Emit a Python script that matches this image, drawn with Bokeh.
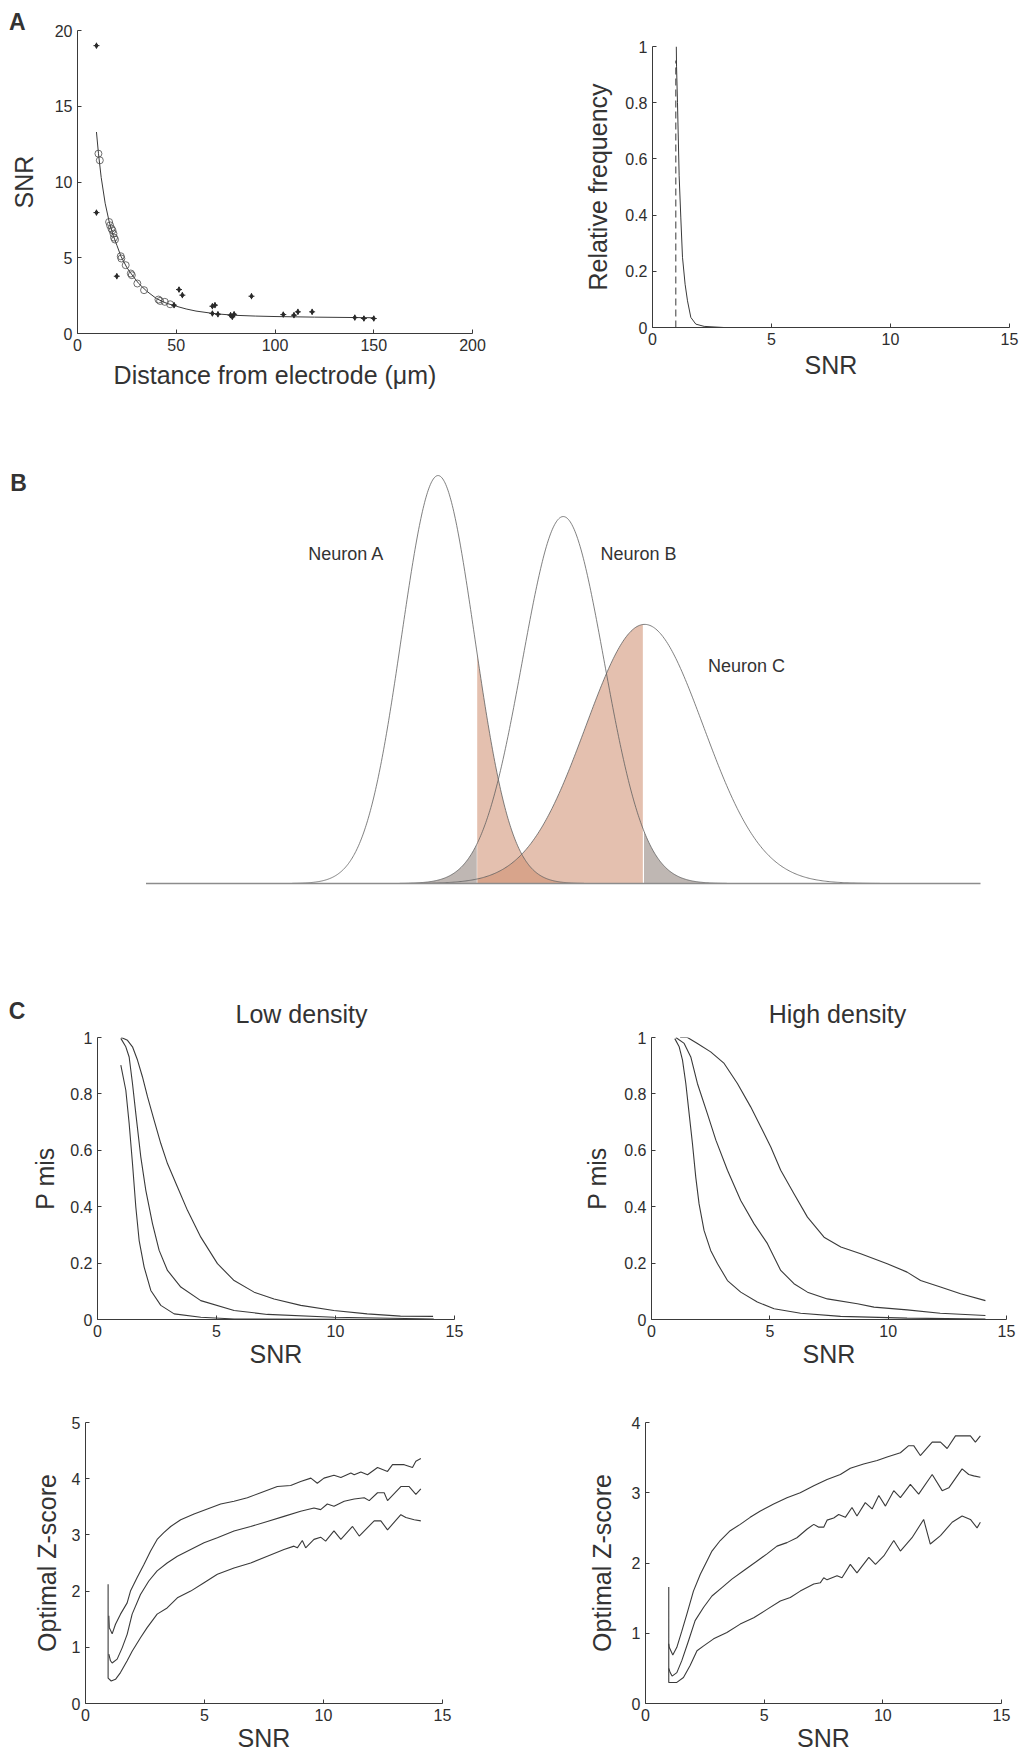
import numpy as np
from bokeh.plotting import figure
from bokeh.layouts import column, row
from bokeh.models import FixedTicker, CustomJSTickFormatter, Label, Title
from bokeh.embed import file_html
from bokeh.resources import INLINE

FONT = "Liberation Sans"
INK = "#3a3a3a"

# ---------------- Panel A (left): SNR vs distance ----------------
fit_dist = [9.6, 10.6, 12, 14, 16, 18, 20, 22, 25, 28, 31, 35, 40, 45, 50, 55, 60, 70, 80, 90, 100, 120, 150]
fit_snr = [13.3, 11.9, 10.3, 8.6, 7.4, 6.5, 5.8, 5.1, 4.35, 3.8, 3.3, 2.8, 2.3, 2.0, 1.8, 1.62, 1.48, 1.3, 1.2, 1.15, 1.12, 1.08, 1.04]
circ_dist = [10.6, 11.3, 16.0, 16.5, 17.2, 17.7, 18.2, 18.5, 19.0, 21.9, 22.2, 24.4, 27.0, 27.5, 30.3, 33.7, 41.0, 41.8, 44.2, 46.9]
circ_snr = [11.87, 11.43, 7.36, 7.14, 6.92, 6.81, 6.59, 6.33, 6.20, 5.10, 4.95, 4.51, 3.96, 3.85, 3.30, 2.86, 2.24, 2.15, 2.09, 1.93]
dot_dist = [9.6, 9.6, 19.9, 51.4, 53.1, 48.9, 68.3, 69.6, 68.3, 71.1, 77.5, 78.4, 79.3, 88.1, 104.2, 109.6, 111.6, 118.8, 140.4, 145.0, 150.0]
dot_snr = [19.0, 7.98, 3.78, 2.90, 2.53, 1.87, 1.80, 1.87, 1.32, 1.27, 1.21, 1.10, 1.27, 2.46, 1.25, 1.21, 1.43, 1.43, 1.05, 0.99, 0.99]

# ---------------- Panel A (right): relative frequency ----------------
freq_snr = [1.0, 1.01, 1.05, 1.12, 1.19, 1.26, 1.37, 1.47, 1.61, 1.82, 2.17, 3.0, 15.0]
freq_val = [1.0, 0.93, 0.80, 0.54, 0.39, 0.25, 0.154, 0.095, 0.036, 0.012, 0.004, 0.0, 0.0]
dash_snr = [0.98, 0.98]
dash_val = [0.0, 0.95]

# ---------------- Panel B: three neuron distributions ----------------
neurons = ["Neuron A", "Neuron B", "Neuron C"]
neuron_mean = [7.0, 10.0, 11.95]
neuron_sd = [0.874, 0.98, 1.41]
neuron_peak = [0.995, 0.895, 0.632]
window = [7.93, 11.92]
b_domain = [0.0, 20.0]

# ---------------- Panel C: P mis (low / high density) ----------------
low1_x = [0.98, 1.19, 1.33, 1.47, 1.61, 1.75, 1.96, 2.24, 2.66, 3.22, 4.34, 5.74, 14.13]
low1_y = [0.902, 0.813, 0.695, 0.553, 0.399, 0.28, 0.186, 0.103, 0.05, 0.02, 0.008, 0.002, 0.0]
low2_x = [0.98, 1.19, 1.33, 1.47, 1.61, 1.82, 2.03, 2.31, 2.59, 2.94, 3.5, 4.34, 5.74, 7.14, 9.93, 14.13]
low2_y = [0.997, 0.967, 0.931, 0.837, 0.730, 0.576, 0.458, 0.34, 0.245, 0.174, 0.115, 0.067, 0.032, 0.018, 0.008, 0.002]
low3_x = [1.0, 1.26, 1.47, 1.68, 1.89, 2.1, 2.38, 2.66, 2.94, 3.36, 3.78, 4.34, 5.04, 5.74, 6.58, 7.42, 8.54, 9.93, 11.33, 12.73, 14.1]
low3_y = [1.0, 0.99, 0.967, 0.92, 0.86, 0.79, 0.706, 0.624, 0.553, 0.47, 0.387, 0.292, 0.198, 0.138, 0.097, 0.073, 0.05, 0.032, 0.02, 0.012, 0.011]

high1_x = [0.985, 1.17, 1.31, 1.45, 1.59, 1.73, 1.87, 2.01, 2.22, 2.5, 2.79, 3.21, 3.77, 4.47, 5.18, 6.3, 7.99, 10.8, 14.11]
high1_y = [0.996, 0.967, 0.92, 0.837, 0.73, 0.624, 0.505, 0.41, 0.316, 0.245, 0.198, 0.138, 0.097, 0.062, 0.038, 0.022, 0.011, 0.005, 0.002]
high2_x = [1.03, 1.38, 1.66, 1.94, 2.36, 2.72, 3.21, 3.77, 4.33, 4.9, 5.46, 6.02, 6.59, 7.43, 8.7, 9.4, 10.8, 12.2, 14.11]
high2_y = [1.0, 0.979, 0.931, 0.837, 0.73, 0.636, 0.529, 0.422, 0.34, 0.269, 0.174, 0.127, 0.097, 0.073, 0.056, 0.044, 0.034, 0.022, 0.014]
high3_x = [1.21, 1.52, 1.94, 2.5, 3.07, 3.63, 4.19, 4.62, 5.04, 5.46, 6.02, 6.59, 7.29, 8.0, 8.84, 9.96, 10.8, 11.37, 12.21, 13.06, 14.11]
high3_y = [1.0, 1.0, 0.979, 0.949, 0.908, 0.837, 0.754, 0.683, 0.612, 0.529, 0.446, 0.363, 0.292, 0.257, 0.233, 0.198, 0.168, 0.138, 0.115, 0.091, 0.067]

# ---------------- Panel C: optimal Z-score ----------------
zlow_top_x = [0.98, 1.0, 1.12, 1.26, 1.47, 1.75, 1.89, 2.17, 2.45, 2.73, 3.01, 3.29, 3.58, 4.0, 4.56, 5.12, 5.68, 6.24, 6.8, 7.36, 8.06, 8.62, 9.04, 9.47, 9.74, 10.02, 10.44, 10.73, 11.15, 11.29, 11.57, 11.85, 12.27, 12.69, 12.9, 13.39, 13.74, 13.88, 14.09]
zlow_top_y = [1.56, 1.35, 1.24, 1.41, 1.59, 1.79, 2.0, 2.24, 2.47, 2.71, 2.92, 3.04, 3.15, 3.27, 3.37, 3.46, 3.55, 3.6, 3.66, 3.75, 3.86, 3.88, 3.95, 4.01, 3.92, 4.01, 4.06, 4.02, 4.1, 4.07, 4.12, 4.07, 4.2, 4.13, 4.25, 4.25, 4.2, 4.31, 4.36]
zlow_mid_x = [0.98, 1.05, 1.12, 1.33, 1.54, 1.75, 1.96, 2.31, 2.66, 3.01, 3.43, 3.86, 4.42, 4.98, 5.54, 6.24, 6.94, 7.64, 8.34, 9.04, 9.6, 9.88, 10.16, 10.44, 10.87, 11.29, 11.71, 11.92, 12.27, 12.55, 12.69, 13.25, 13.6, 13.88, 14.09]
zlow_mid_y = [0.88, 0.76, 0.72, 0.79, 0.99, 1.23, 1.59, 1.94, 2.18, 2.36, 2.5, 2.62, 2.74, 2.86, 2.95, 3.07, 3.15, 3.24, 3.33, 3.42, 3.48, 3.45, 3.55, 3.51, 3.6, 3.64, 3.66, 3.61, 3.75, 3.75, 3.61, 3.86, 3.86, 3.72, 3.82]
zlow_bot_x = [0.95, 0.95, 1.08, 1.26, 1.47, 1.75, 1.96, 2.31, 2.59, 3.01, 3.43, 3.86, 4.42, 4.98, 5.54, 6.24, 6.94, 7.64, 8.34, 8.76, 8.9, 9.11, 9.25, 9.6, 9.88, 10.09, 10.44, 10.73, 11.22, 11.5, 12.13, 12.41, 12.69, 13.25, 13.46, 13.81, 14.09]
zlow_bot_y = [2.12, 0.45, 0.40, 0.43, 0.55, 0.76, 0.93, 1.17, 1.35, 1.59, 1.7, 1.88, 2.0, 2.15, 2.3, 2.41, 2.5, 2.62, 2.74, 2.8, 2.77, 2.9, 2.77, 2.92, 2.96, 2.89, 3.07, 2.92, 3.15, 2.98, 3.25, 3.25, 3.09, 3.36, 3.31, 3.27, 3.25]

zhigh_top_x = [0.98, 1.0, 1.15, 1.32, 1.53, 1.74, 2.02, 2.31, 2.59, 2.8, 3.15, 3.57, 3.99, 4.41, 4.84, 5.4, 5.96, 6.52, 7.09, 7.65, 8.21, 8.63, 9.19, 9.76, 10.18, 10.74, 11.09, 11.3, 11.58, 12.08, 12.43, 12.71, 13.06, 13.69, 13.9, 14.11]
zhigh_top_y = [0.85, 0.80, 0.69, 0.8, 1.03, 1.27, 1.6, 1.84, 2.03, 2.17, 2.32, 2.46, 2.55, 2.65, 2.74, 2.84, 2.93, 3.0, 3.1, 3.19, 3.26, 3.35, 3.41, 3.46, 3.51, 3.57, 3.67, 3.67, 3.53, 3.72, 3.72, 3.63, 3.81, 3.81, 3.72, 3.81]
zhigh_mid_x = [0.98, 1.04, 1.12, 1.32, 1.53, 1.81, 2.09, 2.45, 2.8, 3.22, 3.64, 4.13, 4.63, 5.12, 5.54, 5.96, 6.38, 6.8, 7.09, 7.3, 7.51, 7.65, 7.93, 8.14, 8.42, 8.7, 8.91, 9.26, 9.55, 9.83, 10.11, 10.46, 10.74, 11.16, 11.51, 12.08, 12.5, 12.78, 13.34, 13.62, 13.83, 14.11]
zhigh_mid_y = [0.5, 0.44, 0.39, 0.44, 0.61, 0.89, 1.18, 1.37, 1.53, 1.65, 1.77, 1.89, 2.01, 2.13, 2.24, 2.29, 2.36, 2.48, 2.55, 2.51, 2.51, 2.61, 2.64, 2.69, 2.65, 2.79, 2.67, 2.86, 2.77, 2.96, 2.81, 3.03, 2.93, 3.12, 2.98, 3.26, 3.03, 3.07, 3.34, 3.26, 3.24, 3.22]
zhigh_bot_x = [0.98, 0.98, 1.32, 1.6, 1.88, 2.17, 2.45, 2.87, 3.43, 3.99, 4.56, 5.12, 5.68, 6.1, 6.52, 7.09, 7.37, 7.51, 7.65, 8.07, 8.28, 8.63, 8.91, 9.41, 9.69, 10.04, 10.46, 10.74, 11.23, 11.72, 12.0, 12.43, 12.92, 13.34, 13.69, 13.97, 14.11]
zhigh_bot_y = [1.66, 0.3, 0.3, 0.37, 0.54, 0.75, 0.82, 0.92, 1.01, 1.13, 1.22, 1.34, 1.46, 1.51, 1.6, 1.7, 1.72, 1.79, 1.76, 1.82, 1.79, 1.98, 1.86, 2.08, 1.98, 2.1, 2.32, 2.17, 2.36, 2.62, 2.27, 2.39, 2.58, 2.67, 2.62, 2.5, 2.58]

fmt = CustomJSTickFormatter(code="return String(Math.round(tick*100)/100);")


def make_fig(width, height, xr, yr, borders):
    l, r, t, b = borders
    p = figure(width=width, height=height, x_range=xr, y_range=yr,
               output_backend="svg", toolbar_location=None,
               min_border_left=l, min_border_right=r,
               min_border_top=t, min_border_bottom=b)
    p.outline_line_color = None
    p.grid.visible = False
    p.background_fill_color = "white"
    p.border_fill_color = "white"
    return p


def style_axes(p, xticks, yticks, xlabel, ylabel, ylab_stand, xlab_stand=1):
    p.xaxis.ticker = FixedTicker(ticks=xticks, minor_ticks=[])
    p.yaxis.ticker = FixedTicker(ticks=yticks, minor_ticks=[])
    for ax in list(p.xaxis) + list(p.yaxis):
        ax.formatter = fmt
        ax.axis_line_color = INK
        ax.axis_line_width = 1
        ax.major_tick_line_color = INK
        ax.major_tick_in = 4
        ax.major_tick_out = 0
        ax.minor_tick_line_color = None
        ax.major_label_text_font = FONT
        ax.major_label_text_font_size = "16px"
        ax.major_label_text_color = "#2e2e2e"
        ax.axis_label_text_font = FONT
        ax.axis_label_text_font_size = "25px"
        ax.axis_label_text_font_style = "normal"
        ax.axis_label_text_color = "#333333"
        ax.major_label_standoff = 5
    p.xaxis.axis_label = xlabel
    p.yaxis.axis_label = ylabel
    p.xaxis.axis_label_standoff = xlab_stand
    p.yaxis.axis_label_standoff = ylab_stand


def text_label(p, txt, x, y, size, bold=False, align="left"):
    p.add_layout(Label(x=x, y=y, text=txt, text_font=FONT, text_font_size=size,
                       text_font_style="bold" if bold else "normal",
                       text_color="#333333", text_align=align,
                       text_baseline="alphabetic"))


# ---- A left  (page rows: 0-400)
pA1 = make_fig(560, 400, (0, 200), (0, 20), (77, 88, 30, 67))
pA1.line(fit_dist, fit_snr, line_color=INK, line_width=1)
pA1.scatter(circ_dist, circ_snr, marker="circle", size=7, fill_color=None,
            line_color="#4a4a4a", line_width=0.8)
pA1.scatter(dot_dist, dot_snr, marker="diamond", size=5, fill_color="#2a2a2a",
            line_color="#2a2a2a")
pA1.scatter(dot_dist, dot_snr, marker="cross", size=6, line_color="#2a2a2a",
            line_width=1)
style_axes(pA1, [0, 50, 100, 150, 200], [0, 5, 10, 15, 20],
           "Distance from electrode (\u03bcm)", "SNR", 14, 7)
pA1.add_layout(Title(text="A", align="left", offset=-68.4, standoff=-9.8,
                     text_font=FONT, text_font_size="23px", text_font_style="bold",
                     text_color="#333333"), "above")

# ---- A right
pA2 = make_fig(461, 400, (0, 15), (0, 1), (92, 12, 46, 73))
pA2.line(freq_snr, freq_val, line_color=INK, line_width=1)
pA2.line(dash_snr, dash_val, line_color=INK, line_width=1, line_dash="7 4")
style_axes(pA2, [0, 5, 10, 15], [0, 0.2, 0.4, 0.6, 0.8, 1], "SNR",
           "Relative frequency", 10, 3)

# ---- B (its frame also hosts the "C" letter and the two C-panel titles)
pB = make_fig(1021, 630, (-3.4871, 20.9826), (-0.35854, 1.17805), (0, 0, 0, 0))
pB.axis.visible = False

ORANGE = "#ce8c6e"
GRAY = "#bfb7b3"
curves = []
for m, s, a in zip(neuron_mean, neuron_sd, neuron_peak):
    xs = np.linspace(m - 4 * s, m + 4 * s, 400)
    ys = a * np.exp(-0.5 * ((xs - m) / s) ** 2)
    curves.append((xs, ys))

lo, hi = window
for idx in (0, 2):
    xs, ys = curves[idx]
    mk = (xs >= lo) & (xs <= hi)
    pB.varea(x=xs[mk], y1=0, y2=ys[mk], fill_color=ORANGE, fill_alpha=0.55)
xs, ys = curves[1]
mk = xs <= lo
pB.varea(x=xs[mk], y1=0, y2=ys[mk], fill_color=GRAY)
mk = xs >= hi
pB.varea(x=xs[mk], y1=0, y2=ys[mk], fill_color=GRAY)
for xs, ys in curves:
    pB.line(xs, ys, line_color="#606060", line_width=0.8)
pB.line(b_domain, [0, 0], line_color="#8c8c8c", line_width=1.3)

label_pos = [(3.89, 0.8039), (10.89, 0.8039), (13.47, 0.5309)]
for name, (lx, ly) in zip(neurons, label_pos):
    text_label(pB, name, lx, ly, "18px")
text_label(pB, "B", -3.252, 0.9768, "23px", bold=True)
text_label(pB, "C", -3.288, -0.3109, "23px", bold=True)
text_label(pB, "Low density", 3.7274, -0.3191, "25px", align="center")
text_label(pB, "High density", 16.573, -0.3176, "25px", align="center")

# ---- C top row (page 1030-1372)
pC1 = make_fig(560, 342, (0, 15), (0, 1), (97, 106, 7, 53))
for xx, yy in ((low1_x, low1_y), (low2_x, low2_y), (low3_x, low3_y)):
    pC1.line(xx, yy, line_color=INK, line_width=1.1)
style_axes(pC1, [0, 5, 10, 15], [0, 0.2, 0.4, 0.6, 0.8, 1], "SNR", "P mis", 8, 0)

pC2 = make_fig(461, 342, (0, 15), (0, 1), (91, 15, 7, 53))
for xx, yy in ((high1_x, high1_y), (high2_x, high2_y), (high3_x, high3_y)):
    pC2.line(xx, yy, line_color=INK, line_width=1.1)
style_axes(pC2, [0, 5, 10, 15], [0, 0.2, 0.4, 0.6, 0.8, 1], "SNR", "P mis", 10, 0)

# ---- C bottom row (page 1372-1755)
pC3 = make_fig(560, 383, (0, 15), (0, 5), (85, 118, 50, 52))
for xx, yy in ((zlow_top_x, zlow_top_y), (zlow_mid_x, zlow_mid_y), (zlow_bot_x, zlow_bot_y)):
    pC3.line(xx, yy, line_color=INK, line_width=1.1)
style_axes(pC3, [0, 5, 10, 15], [0, 1, 2, 3, 4, 5], "SNR", "Optimal Z-score", 8, 0)

pC4 = make_fig(461, 383, (0, 15), (0, 4), (85, 20, 50, 52))
for xx, yy in ((zhigh_top_x, zhigh_top_y), (zhigh_mid_x, zhigh_mid_y), (zhigh_bot_x, zhigh_bot_y)):
    pC4.line(xx, yy, line_color=INK, line_width=1.1)
style_axes(pC4, [0, 5, 10, 15], [0, 1, 2, 3, 4], "SNR", "Optimal Z-score", 13, 0)

layout = column(row(column(pA1), column(pA2), spacing=0), pB,
                row(pC1, pC2, spacing=0), row(pC3, pC4, spacing=0), spacing=0)

open("out.html", "w").write(file_html(layout, INLINE))
